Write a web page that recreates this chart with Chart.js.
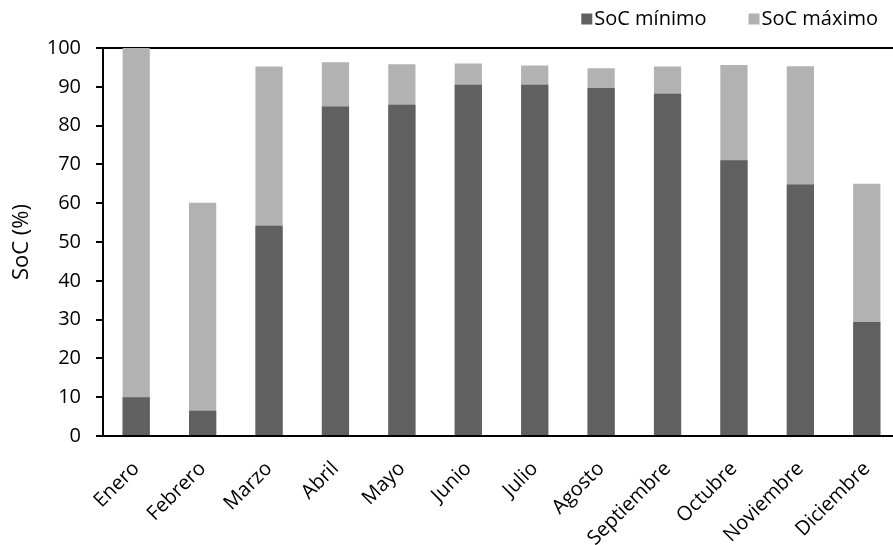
<!DOCTYPE html>
<html>
<head>
<meta charset="utf-8">
<script src="https://cdn.jsdelivr.net/npm/chart.js@4/dist/chart.umd.min.js"></script>
<style>
  html, body { margin: 0; padding: 0; background: #fff; overflow: hidden; }
  #wrap { width: 900px; height: 545px; position: relative; }
</style>
</head>
<body>
<div id="wrap"><canvas id="c"></canvas></div>
<script>
// Monthly battery state of charge (SoC), in percent
const months = ['Enero', 'Febrero', 'Marzo', 'Abril', 'Mayo', 'Junio', 'Julio',
                'Agosto', 'Septiembre', 'Octubre', 'Noviembre', 'Diciembre'];
const socMin = [10.0, 6.5, 54.2, 84.9, 85.4, 90.5, 90.5, 89.7, 88.2, 71.1, 64.8, 29.4];
const socMax = [100.0, 60.1, 95.2, 96.3, 95.8, 96.0, 95.5, 94.8, 95.2, 95.6, 95.3, 65.0];
const yTicks = [0, 10, 20, 30, 40, 50, 60, 70, 80, 90, 100];

const FAMILY = '"Open Sans", Lato, sans-serif';
const FONT = { family: FAMILY, size: 20 };

// Compact legend in the top-right corner: small square, then label
const cornerLegend = {
  id: 'cornerLegend',
  afterDraw(chart) {
    const ctx = chart.ctx;
    const items = chart.data.datasets.map(ds => ({ text: ds.label, color: ds.backgroundColor }));
    ctx.save();
    ctx.font = `20px ${FAMILY}`;
    ctx.textBaseline = 'middle';
    ctx.textAlign = 'left';
    const right = 878, cy = 19, box = 11, gap = 2, itemGap = 42;
    let x = right;
    for (let i = items.length - 1; i >= 0; i--) {
      const w = ctx.measureText(items[i].text).width;
      const tx = x - w;
      ctx.fillStyle = '#000';
      ctx.fillText(items[i].text, tx, cy);
      ctx.fillStyle = items[i].color;
      ctx.fillRect(tx - gap - box, cy - box / 2, box, box);
      x = tx - gap - box - itemGap;
    }
    ctx.restore();
  }
};

new Chart(document.getElementById('c'), {
  type: 'bar',
  data: {
    labels: months,
    datasets: [
      { label: 'SoC mínimo', data: socMin, backgroundColor: '#606060', order: 0,
        barPercentage: 0.41, categoryPercentage: 1.0 },
      { label: 'SoC máximo', data: socMax, backgroundColor: '#b2b2b2', order: 1,
        barPercentage: 0.41, categoryPercentage: 1.0 }
    ]
  },
  options: {
    responsive: true,
    maintainAspectRatio: false,
    animation: false,
    layout: { padding: { left: 0, right: 0, top: 48, bottom: 0 } },
    plugins: {
      legend: { display: false },
      tooltip: { enabled: false }
    },
    scales: {
      x: {
        stacked: true,
        grid: { display: false },
        border: { display: true, color: '#000', width: 2 },
        ticks: { font: FONT, color: '#000', maxRotation: 45, minRotation: 45, autoSkip: false, padding: 13 },
        afterFit(scale) { scale.height = 109; }
      },
      y: {
        stacked: false,
        min: 0,
        max: 100,
        afterBuildTicks(scale) { scale.ticks = yTicks.map(v => ({ value: v })); },
        title: { display: true, text: 'SoC (%)', font: { family: FAMILY, size: 22 }, color: '#000',
                 padding: { top: 9, bottom: 0 } },
        border: { display: true, color: '#000', width: 2 },
        grid: {
          color: ctx => (ctx.tick && ctx.tick.value === 100) ? '#000' : 'rgba(0,0,0,0)',
          lineWidth: 2,
          tickColor: '#000',
          tickLength: 7,
          drawOnChartArea: true
        },
        ticks: { font: FONT, color: '#000', padding: 15 },
        afterFit(scale) { scale.width = 103; }
      }
    }
  },
  plugins: [cornerLegend]
});
</script>
</body>
</html>
